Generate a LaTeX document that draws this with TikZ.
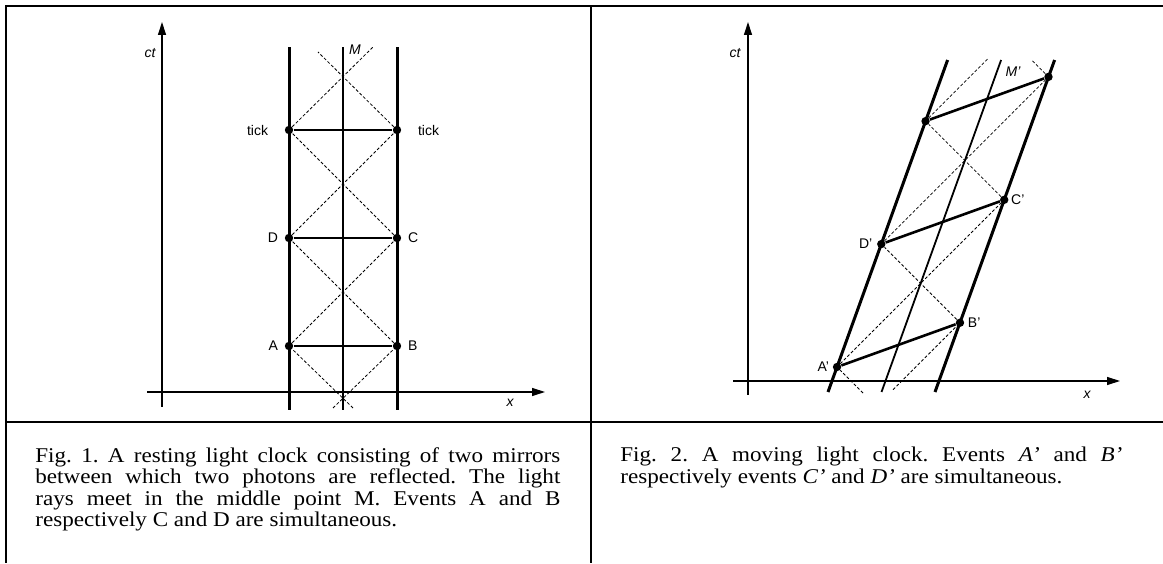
\documentclass[tikz,border=0pt]{standalone}
\usepackage{fontspec}
\setmainfont{Liberation Serif}
\setsansfont{Liberation Sans}
\newfontfamily\capfont[FakeStretch=1.1]{Liberation Serif}
\usetikzlibrary{positioning, arrows.meta}
\tikzset{
  cell/.style={line width=1pt},
  axis/.style={line width=0.6pt, -{Triangle[length=6.5pt, width=4pt]}},
  mirror/.style={line width=1.5pt},
  middle/.style={line width=0.9pt},
  simul/.style={line width=1.3pt},
  ray/.style={line width=0.4pt, dash pattern=on 1.5pt off 1pt},
  event/.style={circle, fill, inner sep=0pt, minimum size=4.2pt},
  lab/.style={font=\sffamily\fontsize{7}{8}\selectfont, inner sep=1pt},
  labit/.style={font=\sffamily\itshape\fontsize{7}{8}\selectfont, inner sep=1pt},
  caption/.style={anchor=north west, inner sep=0pt, align=justify,
    font=\capfont\fontsize{10.5}{10.75}\selectfont\frenchspacing},
}

\begin{document}
\begin{tikzpicture}[x=0.5pt, y=0.5pt]
\useasboundingbox (0,0) rectangle (1163,563);
% table
\draw[cell] (1163,557) -- (6,557) -- (6,0);
\draw[cell] (591,557) -- (591,0);
\draw[cell] (6,141) -- (1163,141);

% Fig. 1, clock at rest
\begin{scope}[shift={(162,171)}]
  \coordinate (xend1) at (383,0);
  \coordinate (ctend1) at (0,370);
  \draw[axis] (-15,0) -- (xend1);
  \draw[axis] (0,-15) -- (ctend1);
  \node[labit] (ct1) at (-12,339) {ct};
  \node[labit] (x1) at (348,-11) {x};

  \coordinate (L1b) at (127,-18); \coordinate (L1t) at (127,345);
  \coordinate (R1b) at (235,-18); \coordinate (R1t) at (235,345);
  \coordinate (M1b) at (181,-18); \coordinate (M1t) at (181,345);
  \draw[mirror] (L1b) -- (L1t);
  \draw[mirror] (R1b) -- (R1t);
  \draw[middle] (M1b) -- (M1t);
  \node[labit] (M1) at (193,342) {M};

  \node[event] (A) at (127,46) {};
  \node[event] (B) at (235,46) {};
  \node[event] (D) at (127,154) {};
  \node[event] (C) at (235,154) {};
  \node[event] (T1) at (127,262) {};
  \node[event] (T2) at (235,262) {};

  \coordinate (ra) at (191,-16); \coordinate (rb) at (171,-16);
  \coordinate (rc) at (211,345); \coordinate (rd) at (156,340);
  \draw[ray] (ra) -- (A) -- (C) -- (T1) -- (rc);
  \draw[ray] (rb) -- (B) -- (D) -- (T2) -- (rd);

  \draw[simul] (A) -- (B);
  \draw[simul] (D) -- (C);
  \draw[simul] (T1) -- (T2);

  \node[lab, left=2pt of A] {A};
  \node[lab, right=2pt of B] {B};
  \node[lab, right=2pt of C] {C};
  \node[lab, left=2pt of D] {D};
  \node[lab, left=7pt of T1] {tick};
  \node[lab, right=7pt of T2] {tick};
\end{scope}

% Fig. 2, moving clock
\begin{scope}[shift={(748,182)}]
  \coordinate (xend2) at (372,0);
  \coordinate (ctend2) at (0,359);
  \draw[axis] (-15,0) -- (xend2);
  \draw[axis] (0,-14) -- (ctend2);
  \node[labit] (ct2) at (-13,328) {ct};
  \node[labit] (x2) at (339,-14) {x};

  \coordinate (L2b) at (80,-11);    \coordinate (L2t) at (199.6,321);
  \coordinate (R2b) at (187,-11);   \coordinate (R2t) at (306.6,321);
  \coordinate (M2b) at (133.5,-11); \coordinate (M2t) at (253.1,321);
  \draw[mirror] (L2b) -- (L2t);
  \draw[mirror] (R2b) -- (R2t);
  \draw[middle] (M2b) -- (M2t);
  \node[labit] (M2) at (265,309) {M'};

  \node[event] (A2) at (89.04,14) {};
  \node[event] (B2) at (211.97,58.26) {};
  \node[event] (C2) at (256.23,181.19) {};
  \node[event] (D2) at (133.29,136.93) {};
  \node[event] (E2) at (177.55,259.87) {};
  \node[event] (F2) at (300.49,304.13) {};

  \coordinate (sa) at (115,-12);   \coordinate (sb) at (145,-8.7);
  \coordinate (sc) at (239.5,321.9); \coordinate (sd) at (283.5,321.1);
  \draw[ray] (sa) -- (A2) -- (C2) -- (E2) -- (sc);
  \draw[ray] (sb) -- (B2) -- (D2) -- (F2) -- (sd);

  \draw[simul] (A2) -- (B2);
  \draw[simul] (D2) -- (C2);
  \draw[simul] (E2) -- (F2);

  \node[lab, left=0.5pt of A2] {A'};
  \node[lab, right=0.5pt of B2] {B'};
  \node[lab, right=0pt of C2] {C'};
  \node[lab, left=1pt of D2] {D'};
\end{scope}

% captions
\node[caption, text width=262.5pt] (cap1) at (35,116) {Fig. 1. A resting light clock consisting of two mirrors\linebreak between which two photons are reflected. The light\linebreak rays meet in the middle point M. Events A and B\linebreak respectively C and D are simultaneous.};
\node[caption, text width=251pt] (cap2) at (620,116) {Fig. 2. A moving light clock. Events \textit{A’} and \textit{B’}\linebreak respectively events \textit{C’} and \textit{D’} are simultaneous.};
\end{tikzpicture}
\end{document}
